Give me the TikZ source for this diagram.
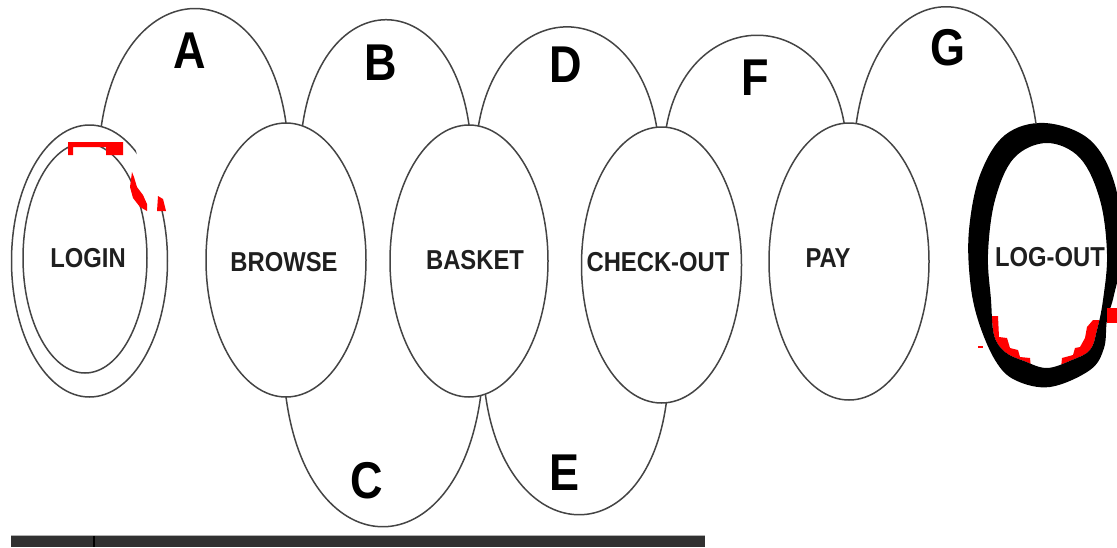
\documentclass[tikz,border=0pt]{standalone}
\usepackage{fontspec}
\setmainfont{Liberation Sans}
\usetikzlibrary{shapes.geometric,calc}
\newcommand{\tallstr}[1]{\scalebox{1}[1.15]{#1}}
\definecolor{linegray}{HTML}{444444}
\definecolor{barcol}{HTML}{313131}
\begin{document}
\begin{tikzpicture}[x=1pt,y=-1pt,
  state/.style={ellipse, draw=linegray, line width=1.5pt, inner sep=0pt, outer sep=0pt},
  ghost/.style={ellipse, draw=none, inner sep=0pt, outer sep=0pt},
  arcline/.style={draw=linegray, line width=1.5pt},
  lab/.style={font=\fontsize{23.8}{24}\selectfont\bfseries, text=black!88, inner sep=0pt},
  big/.style={font=\fontsize{45}{45}\selectfont\bfseries, text=black, inner sep=0pt}]
\useasboundingbox (0,0) rectangle (1117,547);

% ---- LOG-OUT red marks (inside the ring) ----
\begin{scope}
\clip plot[smooth cycle, tension=0.6] coordinates {(1047,143) (1080,158) (1100,200) (1107,254) (1103,300) (1097,330) (1090,350) (1072,360) (1047,368) (1024,361) (1005,352) (994,335) (991,300) (988,254) (995,200) (1014,158)};
\fill[red] (985,316) -- (998,316) -- (999,337) -- (1007,338) -- (1010,348) -- (1018,350) -- (1020,357) -- (1030,358) -- (1032,378) -- (980,378) -- cycle;
\fill[red] (1112,320) -- (1093,320) -- (1087,327) -- (1085,338) -- (1080,347) -- (1075,348) -- (1073,355) -- (1062,358) -- (1060,378) -- (1112,378) -- cycle;
\end{scope}

% ---- states ----
\node[state, minimum width=156pt, minimum height=272pt] (loginout) at (89.5,261) {};
\node[state, minimum width=124pt, minimum height=230pt] (login) at (85,258) {};
\node[state, minimum width=160pt, minimum height=274pt] (browse) at (286,260) {};
\node[state, minimum width=158pt, minimum height=272pt] (basket) at (469,261) {};
\node[state, minimum width=160pt, minimum height=276pt] (checkout) at (661.5,265) {};
\node[state, minimum width=160pt, minimum height=277pt] (pay) at (849,261.5) {};
\node[ghost, minimum width=150pt, minimum height=259pt] (logout) at (1045,252.5) {};

% thick LOG-OUT ring
\fill[black, even odd rule]
  plot[smooth cycle, tension=0.6] coordinates {(1045,123) (1090,140) (1115,185) (1122,250) (1114,295) (1107,320) (1104,348) (1090,370) (1050,387) (1015,380) (995,360) (978,320) (970,280) (969,230) (980,175) (1005,135)}
  plot[smooth cycle, tension=0.6] coordinates {(1047,143) (1080,158) (1100,200) (1107,254) (1103,300) (1097,330) (1090,350) (1072,360) (1047,368) (1024,361) (1005,352) (994,335) (991,300) (988,254) (995,200) (1014,158)};
\fill[red] (1107,308) rectangle (1117,323);
\fill[red] (978,345.5) rectangle (983,347.5);

% ---- state labels ----
\node[lab] (logintext) at (88,258) {\tallstr{LOGIN}};
\node[lab] (browsetext) at (284,262) {\tallstr{BROWSE}};
\node[lab] (baskettext) at (475,260) {\tallstr{BASKET}};
\node[lab] (checkouttext) at (658,262) {\tallstr{CHECK-OUT}};
\node[lab] (paytext) at (828,258) {\tallstr{PAY}};
\node[lab] (logouttext) at (1050,257) {\tallstr{LOG-OUT}};

% ---- transitions ----
\draw[arcline] (loginout.85) .. controls +(22,-155) and +(-22,-155) .. (browse.north);
\draw[arcline] (browse.83) .. controls +(20,-141) and +(-20,-141) .. (basket.north);
\draw[arcline] (basket.86) .. controls +(22,-133) and +(-22,-133) .. (checkout.92);
\draw[arcline] (checkout.88) .. controls +(21,-120) and +(-21,-120) .. (pay.92.5);
\draw[arcline] (pay.87.5) .. controls +(22,-156) and +(-22,-156) .. (logout.94);
\draw[arcline] (browse.270) .. controls +(23,174) and +(-23,174) .. (basket.-85);
\draw[arcline] (basket.-83) .. controls +(21,155) and +(-21,155) .. (checkout.-88.5);

% ---- transition labels ----
\node[big] (la) at (190,51) {\tallstr{A}};
\node[big] (lb) at (381,63) {\tallstr{B}};
\node[big] (ld) at (566,65) {\tallstr{D}};
\node[big] (lf) at (755,78) {\tallstr{F}};
\node[big] (lg) at (948,48) {\tallstr{G}};
\node[big] (lc) at (367,481) {\tallstr{C}};
\node[big] (le) at (565,473) {\tallstr{E}};

% ---- LOGIN damage marks ----
\fill[white] (136,150) -- (148,150) -- (165,194) -- (156,200) -- (139,166) -- cycle;
\fill[red] (68,142) -- (123,142) -- (123,155) -- (106,155) -- (106,147) -- (73,147) -- (73,155) -- (68,155) -- cycle;
\fill[red] (132,172) -- (130,187) -- (133,198) -- (140,207) -- (147,211) -- (147,204) -- (143,195) -- (137,187) -- (134,177) -- cycle;
\fill[red] (158,196) -- (163,199) -- (166,211) -- (157,211) -- cycle;

% ---- bottom bar ----
\fill[barcol] (11,535) rectangle (705,547);
\draw[gray!60, line width=0.8pt] (11,535.4) -- (705,535.4);
\draw[black, line width=1.5pt] (94,535.8) -- (94,547);
\end{tikzpicture}
\end{document}
